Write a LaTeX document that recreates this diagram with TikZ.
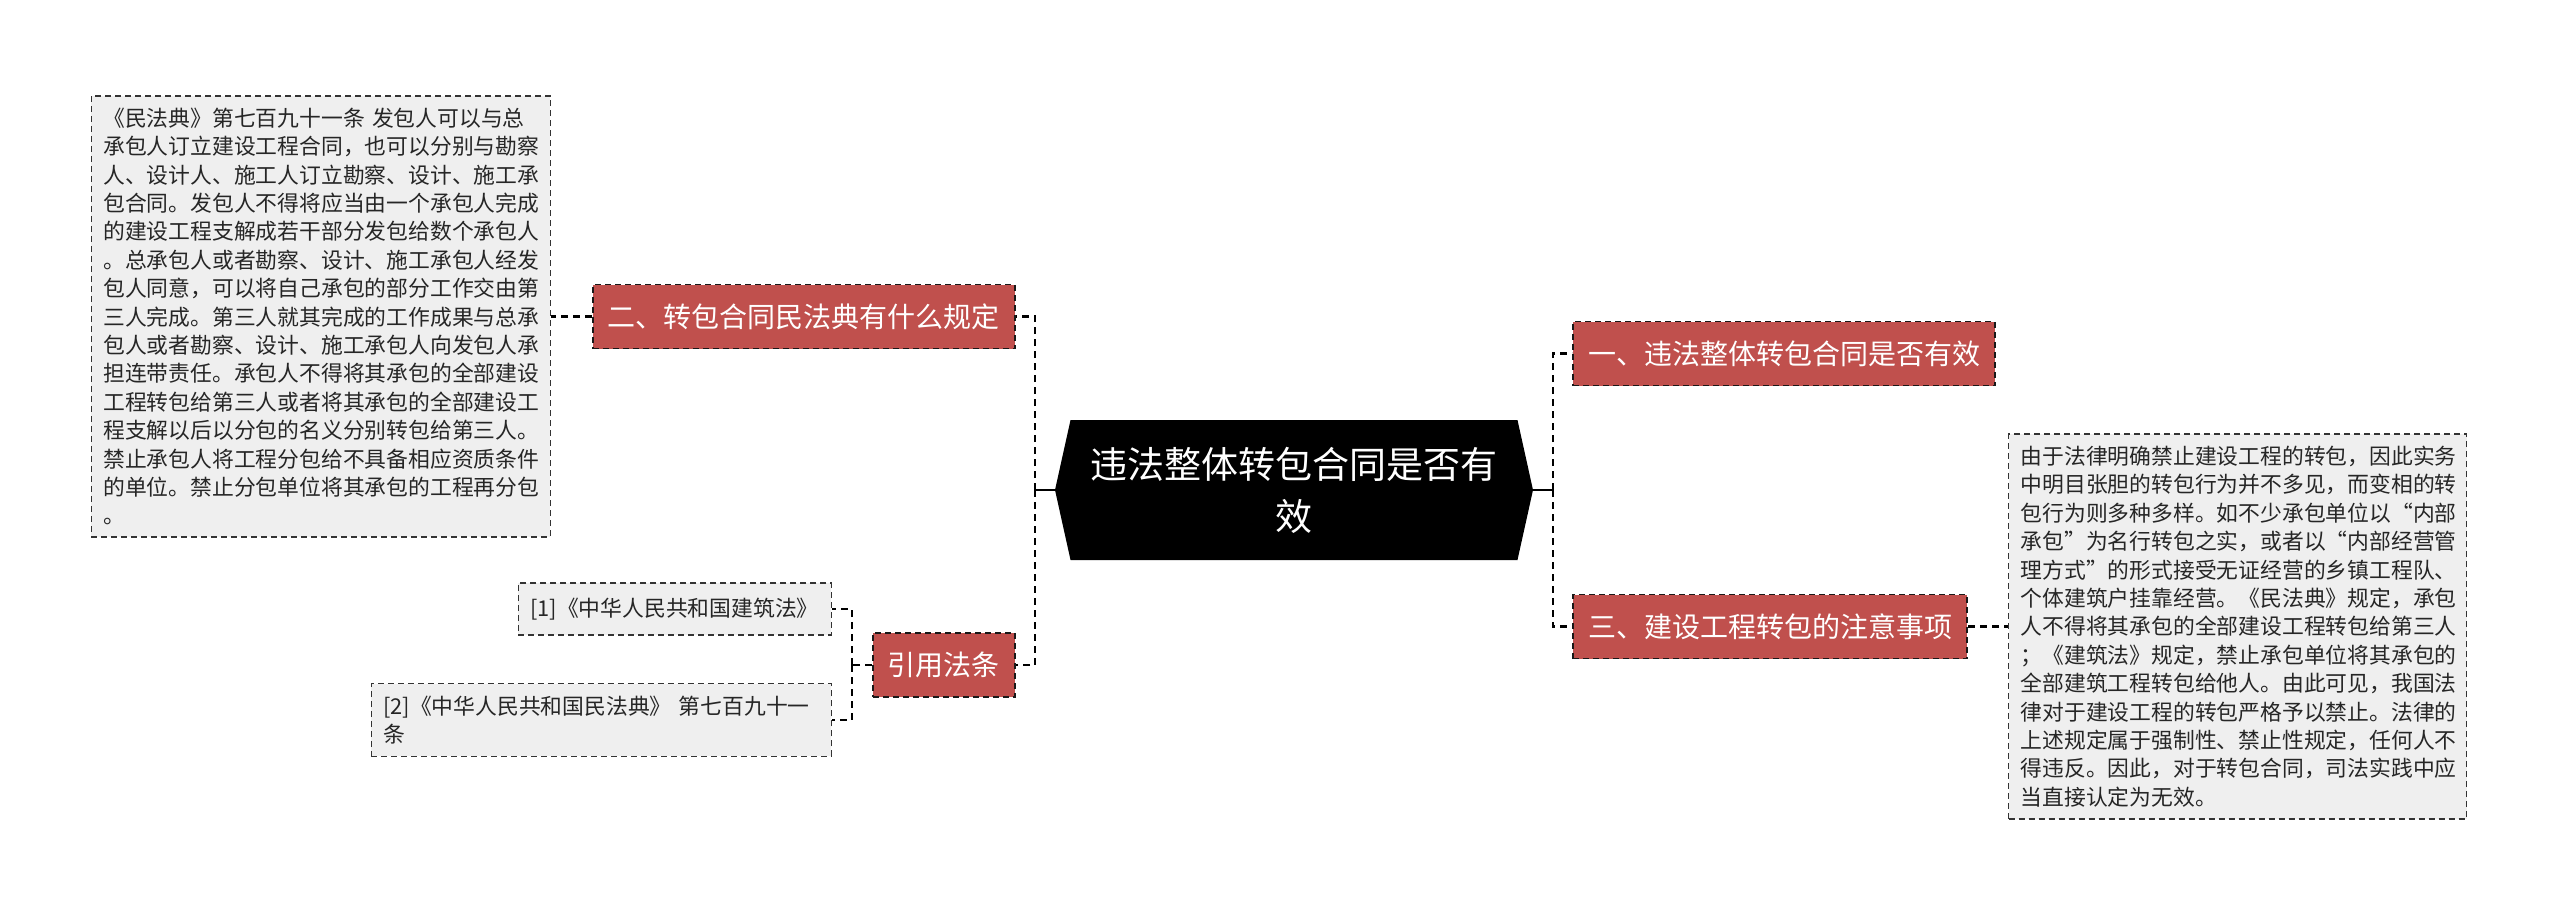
\documentclass[tikz,border=0pt]{standalone}
\usepackage{fontspec}
\setmainfont{Noto Sans CJK SC}
\usetikzlibrary{positioning,shapes.symbols}

\definecolor{topicred}{RGB}{192,80,77}
\definecolor{notegray}{RGB}{239,239,239}

\begin{document}
\begin{tikzpicture}[
    node distance=19.5pt,
    root/.style={shape=signal, signal to=east and west, signal pointer angle=155, fill=black, text=white, minimum width=239pt, minimum height=70pt, inner sep=0pt, align=center, font=\fontsize{18.5pt}{26pt}\selectfont},
    topic/.style={rectangle, draw=black!90, line width=0.8pt, dash pattern=on 3pt off 2pt, fill=topicred, text=white, minimum height=32pt, inner xsep=7.5pt, font=\fontsize{14pt}{17pt}\selectfont},
    note/.style={rectangle, draw=black!80, line width=0.7pt, dash pattern=on 3pt off 2pt, fill=notegray, text=black!85, align=left, inner xsep=6pt, inner ysep=6pt, font=\fontsize{10.9pt}{14.2pt}\selectfont},
    link/.style={line width=1.2pt, dash pattern=on 3.5pt off 2.5pt},
    stem/.style={line width=1.2pt}
]
\useasboundingbox (0,0) rectangle (1280pt,-457.5pt);

% Centre
\node[root] (root) at (647pt,-245pt) {违法整体转包合同是否有\\效};

% Right side
\node[topic, right=of root, yshift=68.25pt] (one) {一、违法整体转包合同是否有效};
\node[topic, right=of root, yshift=-68.25pt] (three) {三、建设工程转包的注意事项};
\node[note, text width=217pt, right=20pt of three] (tips) {由于法律明确禁止建设工程的转包，因此实务\\中明目张胆的转包行为并不多见，而变相的转\\包行为则多种多样。如不少承包单位以“内部\\承包”为名行转包之实，或者以“内部经营管\\理方式”的形式接受无证经营的乡镇工程队、\\个体建筑户挂靠经营。《民法典》规定，承包\\人不得将其承包的全部建设工程转包给第三人\\；《建筑法》规定，禁止承包单位将其承包的\\全部建筑工程转包给他人。由此可见，我国法\\律对于建设工程的转包严格予以禁止。法律的\\上述规定属于强制性、禁止性规定，任何人不\\得违反。因此，对于转包合同，司法实践中应\\当直接认定为无效。};

% Left side
\node[topic, left=of root, yshift=86.75pt] (law) {二、转包合同民法典有什么规定};
\node[topic, left=of root, yshift=-87.5pt] (cite) {引用法条};
\node[note, text width=217.5pt, left=20.5pt of law] (lawtext) {《民法典》第七百九十一条 发包人可以与总\\承包人订立建设工程合同，也可以分别与勘察\\人、设计人、施工人订立勘察、设计、施工承\\包合同。发包人不得将应当由一个承包人完成\\的建设工程支解成若干部分发包给数个承包人\\。总承包人或者勘察、设计、施工承包人经发\\包人同意，可以将自己承包的部分工作交由第\\三人完成。第三人就其完成的工作成果与总承\\包人或者勘察、设计、施工承包人向发包人承\\担连带责任。承包人不得将其承包的全部建设\\工程转包给第三人或者将其承包的全部建设工\\程支解以后以分包的名义分别转包给第三人。\\禁止承包人将工程分包给不具备相应资质条件\\的单位。禁止分包单位将其承包的工程再分包\\。};
\node[note, text width=144.5pt, minimum height=26pt, left=20pt of cite, yshift=28pt] (ref1) {[1]《中华人民共和国建筑法》};
\node[note, text width=218pt, left=20pt of cite, yshift=-27.5pt] (ref2) {[2]《中华人民共和国民法典》 第七百九十一\\条};

% Links
\draw[stem] (root.west) -- ++(-9.75pt,0) coordinate (lj);
\draw[link] (lj) |- (law.east);
\draw[link] (lj) |- (cite.east);
\draw[stem] (root.east) -- ++(9.75pt,0) coordinate (rj);
\draw[link] (rj) |- (one.west);
\draw[link] (rj) |- (three.west);
\draw[link] (law.west) -- (law.west -| lawtext.east);
\draw[link] (three.east) -- (tips.west);
\draw[link] (cite.west) -- ++(-10pt,0) coordinate (cj);
\draw[link] (cj) |- (ref1.east);
\draw[link] (cj) |- (ref2.east);
\end{tikzpicture}
\end{document}
